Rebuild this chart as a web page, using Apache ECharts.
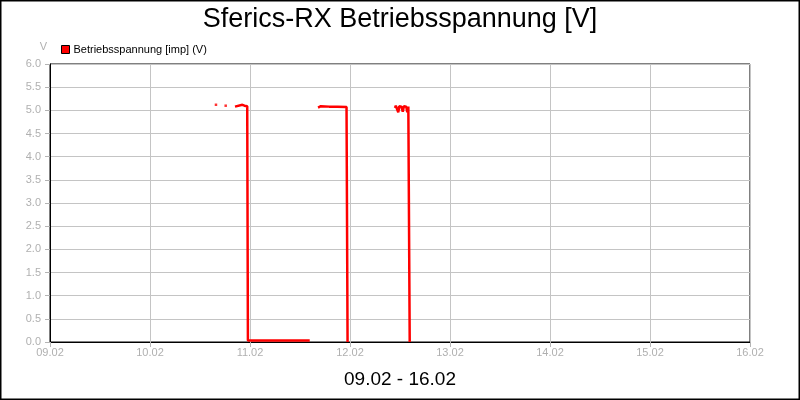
<!DOCTYPE html>
<html>
<head>
<meta charset="utf-8">
<script src="https://cdn.jsdelivr.net/npm/echarts@6/dist/echarts.min.js"></script>
<style>
  html, body { margin: 0; padding: 0; background: #fff; }
  #chart { width: 800px; height: 400px; }
</style>
</head>
<body>
<div id="chart"></div>
<script>
// Messwerte Betriebsspannung (UTC-Zeitpunkte, Volt); null = Lücke
const lineTimes = [
  '2015-02-10T20:24Z', '2015-02-10T20:50Z', '2015-02-10T22:10Z', '2015-02-10T22:40Z',
  '2015-02-10T23:20Z', '2015-02-10T23:30Z', '2015-02-11T14:20Z', '2015-02-11T15:00Z',
  '2015-02-11T16:20Z', '2015-02-11T17:00Z', '2015-02-11T19:00Z', '2015-02-11T21:00Z',
  '2015-02-11T23:10Z', '2015-02-11T23:25Z', '2015-02-12T09:00Z',
  '2015-02-12T10:48Z', '2015-02-12T11:00Z', '2015-02-12T11:20Z', '2015-02-12T11:35Z',
  '2015-02-12T11:50Z', '2015-02-12T12:20Z', '2015-02-12T12:40Z', '2015-02-12T12:55Z',
  '2015-02-12T13:30Z', '2015-02-12T13:45Z', '2015-02-12T14:00Z', '2015-02-12T14:10Z',
  '2015-02-12T14:20Z'
];
const lineValues = [
  5.08, 5.12, 5.12, 5.10,
  5.09, 0.03, 0.03, null,
  5.06, 5.09, 5.08, 5.08,
  5.07, 0.0, null,
  5.05, 5.10, 5.08, 4.96,
  5.09, 5.08, 4.97, 5.09,
  5.08, 4.96, 5.08, 5.06,
  0.0
];
// einzelne Messpunkte
const dotTimes = ['2015-02-10T15:50Z', '2015-02-10T18:10Z'];
const dotValues = [5.12, 5.10];

const seriesName = 'Betriebsspannung [imp] (V)';
const xMin = Date.UTC(2015, 1, 9);
const xMax = Date.UTC(2015, 1, 16);
const DAY = 86400000;

function pair(times, values) {
  return times.map((t, i) => [Date.parse(t), values[i]]);
}

function dayLabel(v) {
  const d = new Date(v);
  const dd = String(d.getUTCDate()).padStart(2, '0');
  const mm = String(d.getUTCMonth() + 1).padStart(2, '0');
  return dd + '.' + mm;
}

const chart = echarts.init(document.getElementById('chart'));
const option = {
  animation: false,
  textStyle: { fontFamily: 'Liberation Sans, Arial, sans-serif' },
  graphic: [{
    type: 'rect',
    shape: { x: 0, y: 0, width: 800, height: 400 },
    style: { fill: 'none', stroke: '#000', lineWidth: 3 },
    silent: true
  }],
  title: {
    text: 'Sferics-RX Betriebsspannung [V]',
    left: 'center',
    top: 1,
    textStyle: { fontSize: 27, fontWeight: 'normal', color: '#000' }
  },
  legend: {
    data: [seriesName],
    left: 56,
    top: 39,
    icon: 'rect',
    itemWidth: 8,
    itemHeight: 8,
    itemGap: 4,
    itemStyle: { borderColor: '#000', borderWidth: 1 },
    textStyle: { fontSize: 11, color: '#000', padding: [0, 0, 0, -1] }
  },
  grid: {
    left: 50,
    right: 50,
    top: 64,
    bottom: 58,
    outerBoundsMode: 'none',
    containLabel: false,
    show: true,
    borderColor: '#000',
    borderWidth: 1
  },
  xAxis: {
    type: 'value',
    min: xMin,
    max: xMax,
    interval: DAY,
    name: '09.02 - 16.02',
    nameLocation: 'middle',
    nameGap: 28,
    nameTextStyle: { fontSize: 19, color: '#000' },
    axisLine: { lineStyle: { color: '#000', width: 1 } },
    axisTick: { length: 5, lineStyle: { color: '#b4b4b4' } },
    axisLabel: { formatter: dayLabel, color: '#b0b0b0', fontSize: 11, margin: 5 },
    splitLine: { show: true, lineStyle: { color: '#c4c4c4' } }
  },
  yAxis: {
    type: 'value',
    min: 0,
    max: 6,
    interval: 0.5,
    name: 'V',
    nameLocation: 'end',
    nameGap: 12,
    nameTextStyle: { color: '#b0b0b0', fontSize: 11, align: 'right', padding: [0, 3, 0, 0] },
    axisLine: { show: true, lineStyle: { color: '#000' } },
    axisTick: { length: 5, lineStyle: { color: '#b4b4b4' } },
    axisLabel: { formatter: v => v.toFixed(1), color: '#b0b0b0', fontSize: 11, margin: 9 },
    splitLine: { lineStyle: { color: '#c4c4c4' } }
  },
  series: [
    {
      name: seriesName,
      type: 'line',
      data: pair(lineTimes, lineValues),
      connectNulls: false,
      showSymbol: false,
      symbol: 'none',
      color: '#ff0000',
      lineStyle: { color: '#ff0000', width: 2.5 }
    },
    {
      name: seriesName,
      type: 'scatter',
      data: pair(dotTimes, dotValues),
      symbol: 'rect',
      symbolSize: 2.5,
      itemStyle: { color: '#ff0000' }
    }
  ]
};
chart.setOption(option);
</script>
</body>
</html>
